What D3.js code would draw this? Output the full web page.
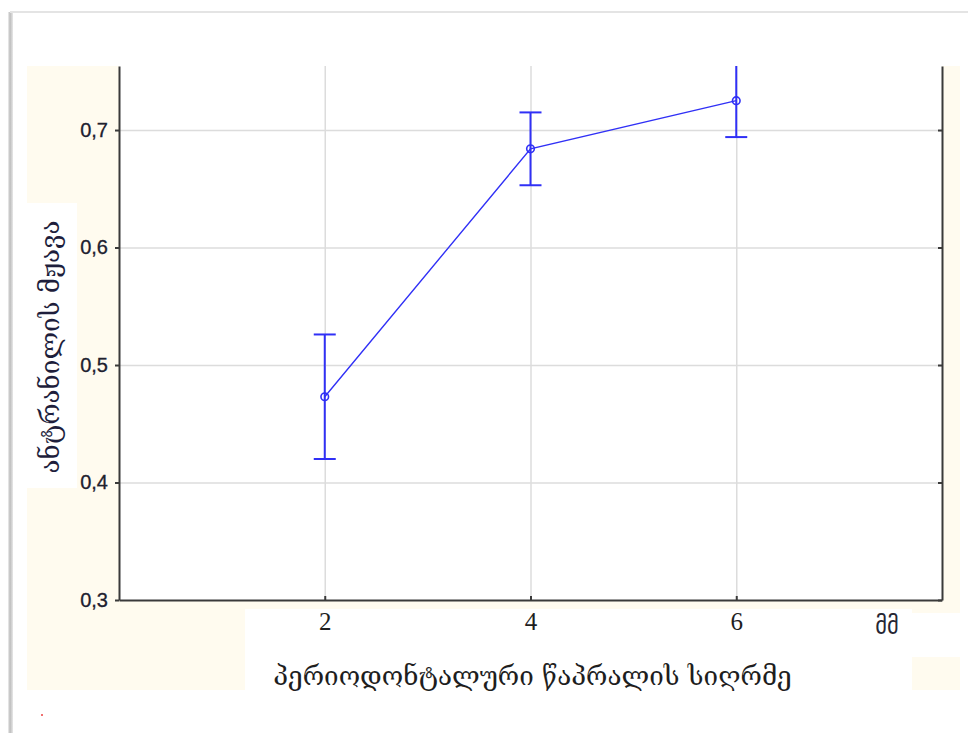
<!DOCTYPE html>
<html>
<head>
<meta charset="utf-8">
<script src="https://cdn.jsdelivr.net/npm/d3@7/dist/d3.min.js"></script>
<style>
  html, body { margin: 0; padding: 0; background: #fff; }
  svg { display: block; }
</style>
</head>
<body>
<svg id="chart" width="968" height="733"></svg>
<script>
// Pocket depth (mm) and anthranilic acid means with confidence limits
const depths = [2, 4, 6];
const means = [0.473, 0.684, 0.725];
const ciLow = [0.420, 0.653, 0.694];
const ciHigh = [0.526, 0.715, 0.757];

const yTicks = [0.3, 0.4, 0.5, 0.6, 0.7];
const yTickLabels = ["0,3", "0,4", "0,5", "0,6", "0,7"];
const xTicks = [2, 4, 6];
const xTickLabels = ["2", "4", "6"];
const xUnit = "მმ";
const yTitle = "ანტრანილის  მჟავა";
const xTitle = "პერიოდონტალური წაპრალის სიღრმე";

const W = 968, H = 733;
const plot = { left: 119, right: 942, top: 66, bottom: 600 };
const cream = "#fffbef";
const blue = "#3030f6";
const axisColor = "#3a3a3a";
const gridColor = "#dcdcdc";

const svg = d3.select("#chart");

// Page frame with a soft left shadow
const defs = svg.append("defs");
const sh = defs.append("linearGradient").attr("id", "leftShadow").attr("x1", 0).attr("x2", 1);
sh.append("stop").attr("offset", 0).attr("stop-color", "#f0f0f0");
sh.append("stop").attr("offset", 0.4).attr("stop-color", "#bcbcbc");
sh.append("stop").attr("offset", 1).attr("stop-color", "#e8e8e8");
svg.append("rect").attr("x", 8).attr("y", 12).attr("width", 5).attr("height", H - 12)
  .attr("fill", "url(#leftShadow)");
svg.append("rect").attr("x", 10).attr("y", 11).attr("width", W - 10).attr("height", 2)
  .attr("fill", "#e4e4e4");

// Cream chart background and white panels
svg.append("rect").attr("x", 27).attr("y", 66).attr("width", 933).attr("height", 624).attr("fill", cream);
svg.append("rect").attr("x", plot.left).attr("y", plot.top)
  .attr("width", plot.right - plot.left).attr("height", plot.bottom - plot.top).attr("fill", "#fff");
svg.append("rect").attr("x", 27).attr("y", 203).attr("width", 50).attr("height", 285).attr("fill", "#fff");
svg.append("rect").attr("x", 245).attr("y", 609).attr("width", 667).attr("height", 81).attr("fill", "#fff");
svg.append("rect").attr("x", 912).attr("y", 613).attr("width", 48).attr("height", 44).attr("fill", "#fff");

// Scales
const x = d3.scaleLinear().domain([0, 8]).range([plot.left, plot.right]);
const y = d3.scaleLinear().domain([0.3, 0.7545]).range([plot.bottom, plot.top]);

// Grid
const grid = svg.append("g");
grid.append("g").attr("transform", `translate(${plot.left},0)`)
  .call(d3.axisLeft(y).tickValues(yTicks.slice(1)).tickSize(-(plot.right - plot.left)).tickFormat(""))
  .call(g => g.select(".domain").remove())
  .call(g => g.selectAll("line").attr("stroke", gridColor).attr("stroke-width", 1.5));
grid.append("g").attr("transform", `translate(0,${plot.bottom})`)
  .call(d3.axisBottom(x).tickValues(xTicks).tickSize(-(plot.bottom - plot.top)).tickFormat(""))
  .call(g => g.select(".domain").remove())
  .call(g => g.selectAll("line").attr("stroke", gridColor).attr("stroke-width", 1.5));

// Axes
const yAxis = svg.append("g").attr("transform", `translate(${plot.left},0)`)
  .call(d3.axisLeft(y).tickValues(yTicks).tickSize(4).tickSizeOuter(0).tickPadding(7)
    .tickFormat((d, i) => yTickLabels[i]));
yAxis.selectAll("text").attr("font-family", "'Liberation Sans', Arial, sans-serif")
  .attr("font-size", 20).attr("fill", "#20202e").attr("stroke", "#20202e").attr("stroke-width", 0.3);

const yAxisR = svg.append("g").attr("transform", `translate(${plot.right},0)`)
  .call(d3.axisLeft(y).tickValues(yTicks).tickSize(4).tickSizeOuter(0).tickFormat(""));

const xAxis = svg.append("g").attr("transform", `translate(0,${plot.bottom})`)
  .call(d3.axisBottom(x).tickValues(xTicks).tickSize(-4).tickSizeOuter(0).tickPadding(12)
    .tickFormat((d, i) => xTickLabels[i]));
xAxis.selectAll("text").attr("font-family", "'Liberation Serif', 'Times New Roman', serif")
  .attr("font-size", 25).attr("fill", "#1e1e1e");

[yAxis, yAxisR, xAxis].forEach(g => {
  g.select(".domain").attr("stroke", axisColor).attr("stroke-width", 2);
  g.selectAll(".tick line").attr("stroke", axisColor).attr("stroke-width", 2);
});

// Unit label at the end of the x axis
svg.append("text").attr("x", 887).attr("y", 634).attr("text-anchor", "middle")
  .attr("font-family", "'DejaVu Sans Condensed', 'DejaVu Sans', sans-serif").attr("font-size", 25)
  .attr("fill", "#262633").text(xUnit);

// Titles
svg.append("text").attr("x", (plot.left + plot.right) / 2 + 2).attr("y", 685)
  .attr("text-anchor", "middle").attr("font-family", "'DejaVu Serif', 'DejaVu Sans', serif")
  .attr("font-size", 26).attr("fill", "#1e1e1e").text(xTitle);
svg.append("text").attr("transform", "translate(59,347) rotate(-90)")
  .attr("text-anchor", "middle").attr("font-family", "'DejaVu Serif', 'DejaVu Sans', serif")
  .attr("font-size", 26).attr("fill", "#1e1e3c").text(yTitle);

// Data layer, clipped to the plot area
defs.append("clipPath").attr("id", "plotClip").append("rect")
  .attr("x", plot.left).attr("y", plot.top)
  .attr("width", plot.right - plot.left).attr("height", plot.bottom - plot.top);
const dl = svg.append("g").attr("clip-path", "url(#plotClip)");

const pts = depths.map((d, i) => ({ d, m: means[i], lo: ciLow[i], hi: ciHigh[i] }));

dl.append("path").datum(pts)
  .attr("d", d3.line().x(p => x(p.d)).y(p => y(p.m)))
  .attr("fill", "none").attr("stroke", blue).attr("stroke-width", 1.4);

const cap = 11;
const eb = dl.selectAll(".eb").data(pts).join("g").attr("class", "eb")
  .attr("stroke", blue).attr("stroke-width", 2);
eb.append("line").attr("x1", p => x(p.d)).attr("x2", p => x(p.d))
  .attr("y1", p => y(p.lo)).attr("y2", p => y(p.hi));
eb.append("line").attr("x1", p => x(p.d) - cap).attr("x2", p => x(p.d) + cap)
  .attr("y1", p => y(p.lo)).attr("y2", p => y(p.lo));
eb.append("line").attr("x1", p => x(p.d) - cap).attr("x2", p => x(p.d) + cap)
  .attr("y1", p => y(p.hi)).attr("y2", p => y(p.hi));

dl.selectAll(".pt").data(pts).join("circle").attr("class", "pt")
  .attr("cx", p => x(p.d)).attr("cy", p => y(p.m)).attr("r", 3.8)
  .attr("fill", "none").attr("stroke", blue).attr("stroke-width", 1.6);

// Small stray mark below the chart
svg.append("rect").attr("x", 41).attr("y", 714).attr("width", 2).attr("height", 2).attr("fill", "#f07070");
</script>
</body>
</html>
